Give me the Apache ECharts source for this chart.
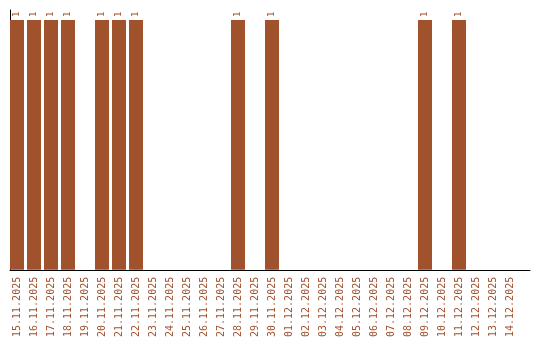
<!DOCTYPE html>
<html><head><meta charset="utf-8">
<script src="https://cdn.jsdelivr.net/npm/echarts@6/dist/echarts.min.js"></script>
<style>html,body{margin:0;padding:0;background:#fff}#c{width:540px;height:340px}</style>
</head><body><div id="c"></div>
<script>
const categories = ["15.11.2025","16.11.2025","17.11.2025","18.11.2025","19.11.2025","20.11.2025","21.11.2025","22.11.2025","23.11.2025","24.11.2025","25.11.2025","26.11.2025","27.11.2025","28.11.2025","29.11.2025","30.11.2025","01.12.2025","02.12.2025","03.12.2025","04.12.2025","05.12.2025","06.12.2025","07.12.2025","08.12.2025","09.12.2025","10.12.2025","11.12.2025","12.12.2025","13.12.2025","14.12.2025"];
const values = [1,1,1,1,0,1,1,1,0,0,0,0,0,1,0,1,0,0,0,0,0,0,0,0,1,0,1,0,0,0];
const color = '#A0522D';
const chart = echarts.init(document.getElementById('c'));
chart.setOption({
  animation:false,
  grid:[
    {left:8.5,width:510,top:10,bottom:70},
    {left:10,right:10,top:10,bottom:70}
  ],
  xAxis:[
    {type:'category',data:categories,gridIndex:0,
      axisLine:{show:false},
      axisTick:{show:false},
      axisLabel:{rotate:90,interval:0,color:color,fontFamily:'DejaVu Sans Mono',fontSize:10,margin:7}},
    {type:'value',gridIndex:1,min:0,max:1,
      axisLine:{show:true,lineStyle:{color:'#000',width:1}},
      axisTick:{show:false},axisLabel:{show:false},splitLine:{show:false}}
  ],
  yAxis:[
    {type:'value',gridIndex:0,min:0,max:1.04,
      axisLine:{show:false},axisTick:{show:false},axisLabel:{show:false},splitLine:{show:false}},
    {type:'value',gridIndex:1,min:0,max:1,
      axisLine:{show:true,lineStyle:{color:'#000',width:1}},
      axisTick:{show:false},axisLabel:{show:false},splitLine:{show:false}}
  ],
  series:[{type:'bar',xAxisIndex:0,yAxisIndex:0,data:values.map(v=>v===0?null:v),barWidth:14,
    itemStyle:{color:color},
    label:{show:true,position:'top',rotate:90,color:color,fontFamily:'DejaVu Sans Mono',fontSize:9,distance:3,align:'left',verticalAlign:'middle'}}]
});
</script></body></html>
